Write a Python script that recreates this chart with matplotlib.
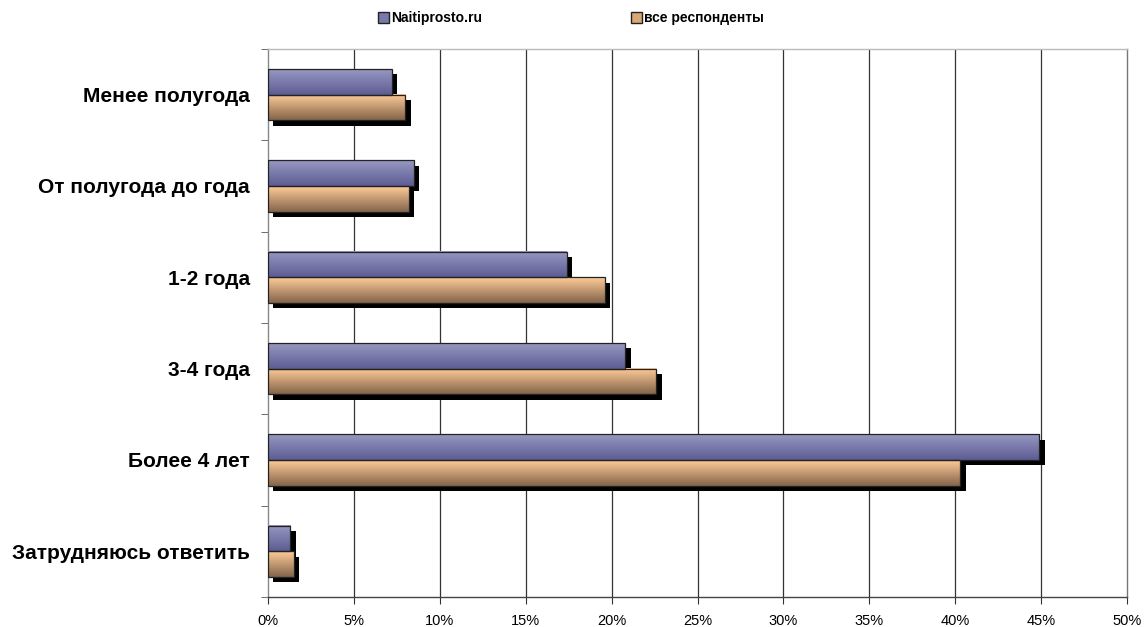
import matplotlib.pyplot as plt
import matplotlib.transforms as mtransforms
import numpy as np
from matplotlib.patches import Rectangle

plt.rcParams["font.family"] = ["Liberation Sans", "DejaVu Sans"]

categories = [
    "Менее полугода",
    "От полугода до года",
    "1-2 года",
    "3-4 года",
    "Более 4 лет",
    "Затрудняюсь ответить",
]
naitiprosto = [7.2, 8.5, 17.4, 20.8, 44.9, 1.3]
all_resp = [8.0, 8.2, 19.6, 22.6, 40.3, 1.5]
series_names = ["Naitiprosto.ru", "все респонденты"]
xticks = list(range(0, 55, 5))

BLUE_TOP, BLUE_BOT = "#9898c2", "#5c5c94"
ORNG_TOP, ORNG_BOT = "#ffcc99", "#84644a"
BAR_H = 0.28


def gradient_bar(ax, x, y0, y1, top, bot, shadow_tf):
    # drop shadow first, offset right/down
    ax.add_patch(Rectangle((0, y0), x, y1 - y0, facecolor="black",
                           edgecolor="none", transform=shadow_tf, zorder=2))
    c0 = np.array(plt.matplotlib.colors.to_rgb(top))
    c1 = np.array(plt.matplotlib.colors.to_rgb(bot))
    t = np.linspace(0, 1, 64)[:, None]
    img = (c0 * (1 - t) + c1 * t)[:, None, :]
    # y axis is inverted: y0 is the top edge on screen
    ax.imshow(img, extent=(0, x, y1, y0), aspect="auto", zorder=3,
              interpolation="bilinear", origin="upper")
    ax.add_patch(Rectangle((0, y0), x, y1 - y0, facecolor="none",
                           edgecolor="#222222", linewidth=0.9, zorder=4))


fig = plt.figure(figsize=(11.44, 6.27), dpi=100)
ax = fig.add_axes([268 / 1144, 1 - 597 / 627, (1127 - 268) / 1144, (597 - 49) / 627])

shadow_tf = ax.transData + mtransforms.ScaledTranslation(3.8 / 72, -3.8 / 72, fig.dpi_scale_trans)

for i, (a, b) in enumerate(zip(naitiprosto, all_resp)):
    gradient_bar(ax, b, i, i + BAR_H, ORNG_TOP, ORNG_BOT, shadow_tf)
    gradient_bar(ax, a, i - BAR_H, i, BLUE_TOP, BLUE_BOT, shadow_tf)

ax.set_xlim(0, 50)
ax.set_ylim(len(categories) - 0.5, -0.5)

ax.set_xticks(xticks)
ax.set_xticklabels([f"{v}%" for v in xticks], fontsize=10.5)
ax.set_yticks(range(len(categories)))
ax.set_yticklabels(categories, fontsize=15, fontweight="bold")
ax.set_yticks(np.arange(-0.5, len(categories), 1), minor=True)
ax.tick_params(axis="y", which="major", length=0, pad=13)
ax.tick_params(axis="y", which="minor", length=5, color="#555555")
ax.tick_params(axis="x", length=5, color="#333333", pad=7)

for v in xticks[1:-1]:
    ax.axvline(v, color="#333333", linewidth=0.9, zorder=1)

ax.spines["left"].set_color("#888888")
ax.spines["bottom"].set_color("#444444")
ax.spines["top"].set_color("#bbbbbb")
ax.spines["right"].set_color("#777777")
for s in ax.spines.values():
    s.set_linewidth(1.0)

# legend entries placed separately, like the original spreadsheet legend
legend_colors = ["#7878aa", "#d8a878"]
legend_x = [378 / 1144, 631 / 1144]
for name, col, lx in zip(series_names, legend_colors, legend_x):
    h = Rectangle((0, 0), 1, 1, facecolor=col, edgecolor="#222222")
    fig.legend([h], [name], loc="center left", bbox_to_anchor=(lx, 0.971),
               frameon=False, borderpad=0, borderaxespad=0,
               prop={"weight": "bold", "size": 10},
               handlelength=0.8, handleheight=0.8, handletextpad=0.15)

fig.savefig("out.png", dpi=100)
